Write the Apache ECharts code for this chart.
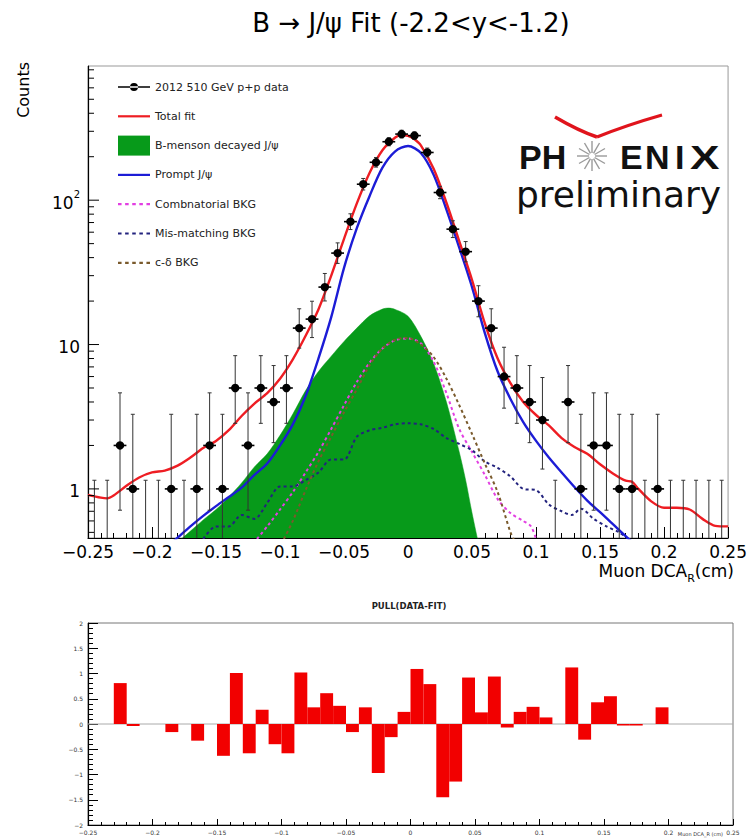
<!DOCTYPE html>
<html><head><meta charset="utf-8">
<script src="https://cdn.jsdelivr.net/npm/echarts@6/dist/echarts.min.js"></script>
<style>html,body{margin:0;padding:0;background:#fff}#c{width:750px;height:839px}</style>
</head><body><div id="c"></div>
<script>
// ---------------- data ----------------
const xRange = [-0.25, 0.25];
const yRangeMain = [0.457, 850];
const yRangePull = [-2, 2];

const binCenters = [-0.245,-0.235,-0.225,-0.215,-0.205,-0.195,-0.185,-0.175,-0.165,-0.155,
  -0.145,-0.135,-0.125,-0.115,-0.105,-0.095,-0.085,-0.075,-0.065,-0.055,
  -0.045,-0.035,-0.025,-0.015,-0.005,0.005,0.015,0.025,0.035,0.045,
  0.055,0.065,0.075,0.085,0.095,0.105,0.115,0.125,0.135,0.145,
  0.155,0.165,0.175,0.185,0.195,0.205,0.215,0.225,0.235,0.245];
const counts = [0,0,2,1,0,0,1,0,1,2,
  1,5,2,5,4,5,13,15,25,43,
  71,129,183,254,287,280,214,113,63,44,
  20,13,6,5,4,3,0,4,1,2,
  2,1,1,0,1,0,0,0,0,0];
const pulls = [null,null,0.81,-0.04,null,null,-0.16,null,-0.33,0,
  -0.63,1.01,-0.58,0.28,-0.40,-0.58,1.02,0.33,0.61,0.36,
  -0.16,0.33,-0.97,-0.26,0.24,1.09,0.79,-1.45,-1.14,0.92,
  0.23,0.94,-0.07,0.24,0.34,0.13,null,1.12,-0.31,0.43,
  0.55,-0.03,-0.03,null,0.33,null,null,null,null,null];

const totalFit = [[-0.25,0.91],[-0.24,0.87],[-0.235,0.86],[-0.23,0.9],[-0.22,1.05],[-0.21,1.2],[-0.2,1.3],[-0.19,1.34],[-0.18,1.45],[-0.17,1.65],[-0.16,1.92],[-0.15,2.15],[-0.14,2.55],[-0.13,3.2],[-0.12,3.9],[-0.11,4.6],[-0.1,5.8],[-0.09,7.9],[-0.08,11.5],[-0.07,17.5],[-0.06,30],[-0.05,54],[-0.04,95],[-0.03,155],[-0.02,222],[-0.01,272],[-0.005,283],[0,279],[0.005,264],[0.01,240],[0.02,165],[0.03,96],[0.04,52],[0.05,28],[0.06,14],[0.07,8],[0.08,5.4],[0.09,4.0],[0.1,3.25],[0.11,2.75],[0.12,2.25],[0.13,1.95],[0.14,1.75],[0.15,1.48],[0.16,1.28],[0.17,1.14],[0.175,1.12],[0.18,1.0],[0.19,0.82],[0.2,0.74],[0.21,0.74],[0.22,0.72],[0.23,0.62],[0.24,0.555],[0.25,0.55]];
const promptJpsi = [[-0.185,0.42],[-0.18,0.46],[-0.17,0.55],[-0.16,0.65],[-0.15,0.76],[-0.14,0.88],[-0.13,1.02],[-0.12,1.25],[-0.11,1.5],[-0.1,2.0],[-0.09,2.8],[-0.08,4.4],[-0.07,8.0],[-0.06,15.5],[-0.05,34],[-0.04,64],[-0.03,107],[-0.02,168],[-0.01,218],[0,237],[0.01,212],[0.02,150],[0.03,86],[0.04,47],[0.05,25],[0.06,12],[0.07,6.5],[0.08,4.2],[0.09,2.9],[0.1,2.15],[0.11,1.65],[0.12,1.3],[0.13,1.03],[0.14,0.83],[0.15,0.69],[0.16,0.57],[0.17,0.47],[0.175,0.43]];
const bMeson = [[-0.177,0.45],[-0.17,0.51],[-0.16,0.61],[-0.15,0.72],[-0.14,0.88],[-0.13,1.1],[-0.12,1.42],[-0.11,1.75],[-0.1,2.35],[-0.09,3.3],[-0.08,4.8],[-0.07,6.5],[-0.06,8.3],[-0.05,10.5],[-0.04,13],[-0.03,15.8],[-0.02,17.6],[-0.015,17.9],[-0.01,17.5],[0,15.7],[0.01,11.4],[0.02,7.4],[0.03,4.0],[0.04,1.8],[0.045,1.15],[0.05,0.68],[0.055,0.42]];
const combBkg = [[-0.118,0.45],[-0.11,0.55],[-0.1,0.72],[-0.09,0.95],[-0.08,1.3],[-0.07,1.8],[-0.06,2.6],[-0.05,3.8],[-0.04,5.5],[-0.03,7.5],[-0.02,9.4],[-0.01,10.7],[0,11],[0.01,10.2],[0.02,7.6],[0.03,4.6],[0.04,2.6],[0.05,1.8],[0.06,1.25],[0.07,0.85],[0.08,0.68],[0.09,0.6],[0.096,0.55],[0.1,0.45]];
const misBkg = [[-0.16,0.45],[-0.15,0.55],[-0.14,0.55],[-0.13,0.66],[-0.12,0.62],[-0.11,0.8],[-0.1,1.04],[-0.09,1.04],[-0.08,1.15],[-0.07,1.3],[-0.06,1.6],[-0.05,1.6],[-0.04,2.3],[-0.03,2.55],[-0.02,2.65],[-0.01,2.8],[0,2.85],[0.01,2.8],[0.02,2.6],[0.03,2.25],[0.04,2.05],[0.05,1.85],[0.06,1.55],[0.07,1.4],[0.08,1.22],[0.09,1.0],[0.1,0.98],[0.11,0.78],[0.12,0.7],[0.128,0.66],[0.135,0.73],[0.145,0.62],[0.155,0.55],[0.165,0.5],[0.172,0.45]];
const cdeltaBkg = [[-0.097,0.45],[-0.09,0.6],[-0.08,0.98],[-0.07,1.55],[-0.06,2.3],[-0.05,3.4],[-0.04,4.9],[-0.03,7.2],[-0.02,9.4],[-0.01,10.8],[0,11.1],[0.01,10],[0.02,8.2],[0.03,5.8],[0.04,3.8],[0.05,2.4],[0.06,1.5],[0.07,0.95],[0.08,0.5],[0.083,0.44]];

const mainYTicks = [0.5,0.6,0.7,0.8,0.9,1,2,3,4,5,6,7,8,9,10,20,30,40,50,60,70,80,90,100,200,300,400,500,600,700,800];
const xTickInterval = 0.05;
const pullTickInterval = 0.5;
const binHalfWidth = 0.005;

const legendNames = ['2012 510 GeV p+p data','Total fit','B-menson decayed J/\u03c8','Prompt J/\u03c8','Combnatorial BKG','Mis-matching BKG','c-\u03b4 BKG'];

// ---------------- styles ----------------
const FONT = 'DejaVu Sans';
const C_RED = '#ee1d23', C_BLUE = '#1c1cd6', C_GREEN = '#079a1a', C_MAG = '#e23fe2', C_NAVY = '#23237e', C_BROWN = '#7a5a2c';

function poissonInterval(n){
  if (n <= 0) return [0, 1.148];
  const lo = n*Math.pow(1 - 1/(9*n) - 1/(3*Math.sqrt(n)), 3);
  const m = n + 1;
  const hi = m*Math.pow(1 - 1/(9*m) + 1/(3*Math.sqrt(m)), 3);
  return [lo, hi];
}
const fmtNum = v => { const r = Math.round(v*1000)/1000; return r === 0 ? '0' : String(r).replace('-', '\u2212'); };

const chart = echarts.init(document.getElementById('c'), null, {renderer:'svg', width:750, height:839});

const dashIcon = 'path://M0,0h3.2v2h-3.2z M6.4,0h3.2v2h-3.2z M12.8,0h3.2v2h-3.2z M19.2,0h3.2v2h-3.2z M25.6,0h3.2v2h-3.2z';
const solidIcon = 'path://M0,0h32v2.2h-32z';
const dataIcon = 'path://M0,3.3h32v1.4h-32z M12,4a4,4 0 1,0 8,0a4,4 0 1,0 -8,0z';

const rays = [];
for (let k = 0; k < 12; k++) {
  const a = k*Math.PI/6;
  rays.push({type: 'line', shape: {x1: 3*Math.cos(a), y1: 3*Math.sin(a), x2: 15*Math.cos(a), y2: 15*Math.sin(a)}, style: {stroke: '#9a9a9a', lineWidth: 1.4}});
}

const option = {
  animation: false,
  backgroundColor: '#fff',
  textStyle: {fontFamily: FONT},
  grid: [
    {left: 88, top: 66, width: 645, height: 472, show: true, borderColor: '#999', borderWidth: 1, backgroundColor: 'transparent'},
    {left: 88, top: 623, width: 645, height: 202, show: true, borderColor: '#777', borderWidth: 1, backgroundColor: 'transparent'}
  ],
  xAxis: [
    {gridIndex: 0, type: 'value', min: xRange[0], max: xRange[1], interval: xTickInterval,
     axisLine: {show: true, onZero: false, lineStyle: {color: '#000', width: 1.2}},
     axisTick: {show: true, inside: true, length: 11, lineStyle: {color: '#000'}},
     minorTick: {show: true, splitNumber: 5, length: 5, lineStyle: {color: '#000'}},
     splitLine: {show: false},
     axisLabel: {fontSize: 17, color: '#000', margin: 5, fontFamily: FONT, lineHeight: 17, formatter: fmtNum, showMinLabel: true, showMaxLabel: true}},
    {gridIndex: 1, type: 'value', min: xRange[0], max: xRange[1], interval: xTickInterval,
     axisLine: {show: true, onZero: false, lineStyle: {color: '#000', width: 1.2}},
     axisTick: {show: true, inside: true, length: 6, lineStyle: {color: '#000'}},
     minorTick: {show: true, splitNumber: 5, length: 3, lineStyle: {color: '#000'}},
     splitLine: {show: false},
     axisLabel: {fontSize: 6, color: '#333', margin: 4, fontFamily: FONT, lineHeight: 6, formatter: fmtNum}}
  ],
  yAxis: [
    {gridIndex: 0, type: 'log', logBase: 10, min: yRangeMain[0], max: yRangeMain[1],
     axisLine: {show: true, onZero: false, lineStyle: {color: '#000', width: 1.2}},
     axisTick: {show: false}, splitLine: {show: false},
     axisLabel: {fontSize: 17, color: '#000', margin: 8, fontFamily: FONT, showMinLabel: false, showMaxLabel: false,
       formatter: v => { const l = Math.log10(v); const r = Math.round(l); if (Math.abs(l - r) > 1e-6) return ''; if (r === 0) return '{n|1}'; if (r === 1) return '{n|10}'; return '{n|10}{s|' + r + '}'; },
       rich: {n: {fontSize: 17, fontFamily: FONT, color: '#000', lineHeight: 22, verticalAlign: 'bottom'}, s: {fontSize: 10, fontFamily: FONT, color: '#000', verticalAlign: 'top'}}}},
    {gridIndex: 1, type: 'value', min: yRangePull[0], max: yRangePull[1], interval: pullTickInterval,
     axisLine: {show: true, onZero: false, lineStyle: {color: '#000', width: 1.2}},
     axisTick: {show: true, inside: true, length: 10, lineStyle: {color: '#000'}},
     minorTick: {show: true, splitNumber: 5, length: 5, lineStyle: {color: '#000'}},
     splitLine: {show: false},
     axisLabel: {fontSize: 6, color: '#333', margin: 5, fontFamily: FONT, lineHeight: 6, formatter: fmtNum}}
  ],
  legend: {
    orient: 'vertical', left: 118, top: 77, itemWidth: 32, itemHeight: 20, itemGap: 9.3, padding: 0,
    selectedMode: false, itemStyle: {borderWidth: 0},
    textStyle: {fontFamily: FONT, fontSize: 11, color: '#222', lineHeight: 20},
    data: [
      {name: legendNames[0], icon: dataIcon},
      {name: legendNames[1], icon: solidIcon},
      {name: legendNames[2], icon: 'rect'},
      {name: legendNames[3], icon: solidIcon},
      {name: legendNames[4], icon: dashIcon},
      {name: legendNames[5], icon: dashIcon},
      {name: legendNames[6], icon: dashIcon}
    ]
  },
  graphic: [
    {type: 'text', x: 411, y: 23, style: {text: 'B \u2192 J/\u03c8 Fit (-2.2<y<-1.2)', font: '26px "DejaVu Sans"', fill: '#000', align: 'center', verticalAlign: 'middle'}},
    {type: 'text', x: 23, y: 62, rotation: Math.PI/2, style: {text: 'Counts', font: '16px "DejaVu Sans"', fill: '#000', align: 'right', verticalAlign: 'middle'}},
    {type: 'text', x: 734, y: 562, style: {text: '{a|Muon DCA}{s|R}{a|(cm)}', align: 'right', verticalAlign: 'top',
      rich: {a: {fontSize: 17, fontFamily: FONT, color: '#000', lineHeight: 22, verticalAlign: 'top'}, s: {fontSize: 11, fontFamily: FONT, color: '#000', verticalAlign: 'bottom'}}}},
    // PHENIX logo
    {type: 'bezierCurve', shape: {x1: 555, y1: 117, cpx1: 579, cpy1: 131, x2: 597, y2: 137}, style: {stroke: '#e0141c', lineWidth: 3.5, fill: null}},
    {type: 'bezierCurve', shape: {x1: 597, y1: 137, cpx1: 627, cpy1: 125, x2: 662, y2: 115}, style: {stroke: '#e0141c', lineWidth: 3, fill: null}},
    {type: 'text', x: 519, y: 157, style: {text: 'PH', font: 'bold 34px "Liberation Sans"', fill: '#111', verticalAlign: 'middle'}},
    {type: 'group', x: 592, y: 156, children: rays},
    {type: 'text', x: 620, y: 157, style: {text: 'E', font: 'bold 34px "Liberation Sans"', fill: '#111', verticalAlign: 'middle'}},
    {type: 'text', x: 645, y: 157, style: {text: 'N', font: 'bold 34px "Liberation Sans"', fill: '#111', verticalAlign: 'middle'}},
    {type: 'text', x: 675, y: 157, style: {text: 'I', font: 'bold 34px "Liberation Sans"', fill: '#111', verticalAlign: 'middle'}},
    {type: 'text', x: 690, y: 157, scaleX: 1.3, style: {text: 'X', font: 'bold 34px "Liberation Sans"', fill: '#111', verticalAlign: 'middle'}},
    {type: 'text', x: 516, y: 194, style: {text: 'preliminary', font: '36px "DejaVu Sans"', fill: '#111', verticalAlign: 'middle'}},
    // pull panel texts
    {type: 'text', x: 409, y: 606, style: {text: 'PULL(DATA-FIT)', font: 'bold 8.5px "DejaVu Sans"', fill: '#222', align: 'center', verticalAlign: 'middle'}},
    {type: 'text', x: 723, y: 831, style: {text: 'Muon DCA_R (cm)', font: '5px "DejaVu Sans"', fill: '#333', align: 'right', verticalAlign: 'top'}}
  ],
  series: [
    {name: legendNames[2], type: 'line', xAxisIndex: 0, yAxisIndex: 0, data: bMeson, smooth: 0.3, symbol: 'none', color: C_GREEN,
     lineStyle: {width: 0.5, color: C_GREEN}, areaStyle: {color: C_GREEN, opacity: 1, origin: 'start'}, z: 2},
    {name: legendNames[4], type: 'line', xAxisIndex: 0, yAxisIndex: 0, data: combBkg, smooth: 0.3, symbol: 'none', color: C_MAG,
     lineStyle: {width: 2, color: C_MAG, type: [3, 3]}, z: 3},
    {name: legendNames[5], type: 'line', xAxisIndex: 0, yAxisIndex: 0, data: misBkg, smooth: 0.3, symbol: 'none', color: C_NAVY,
     lineStyle: {width: 2, color: C_NAVY, type: [3, 3]}, z: 3},
    {name: legendNames[6], type: 'line', xAxisIndex: 0, yAxisIndex: 0, data: cdeltaBkg, smooth: 0.3, symbol: 'none', color: C_BROWN,
     lineStyle: {width: 2, color: C_BROWN, type: [3, 3]}, z: 3},
    {name: legendNames[3], type: 'line', xAxisIndex: 0, yAxisIndex: 0, data: promptJpsi, smooth: 0.3, symbol: 'none', color: C_BLUE,
     lineStyle: {width: 2.4, color: C_BLUE}, z: 4},
    {name: legendNames[1], type: 'line', xAxisIndex: 0, yAxisIndex: 0, data: totalFit, smooth: 0.3, symbol: 'none', color: C_RED,
     lineStyle: {width: 2.4, color: C_RED}, z: 5},
    {name: legendNames[0], type: 'custom', xAxisIndex: 0, yAxisIndex: 0, color: '#000', itemStyle: {color: '#000'}, z: 6, clip: true,
     data: binCenters.map((x, i) => [x, counts[i]]),
     encode: {x: 0, y: 1},
     renderItem: (params, api) => {
       const x = api.value(0), n = api.value(1);
       const [lo, hi] = poissonInterval(n);
       const yLo = Math.max(lo, yRangeMain[0]);
       const yHi = Math.min(hi, yRangeMain[1]);
       const pT = api.coord([x, yHi]), pB = api.coord([x, yLo]);
       const ch = [
         {type: 'line', shape: {x1: pT[0], y1: pT[1], x2: pB[0], y2: pB[1]}, style: {stroke: '#333', lineWidth: 1}},
         {type: 'line', shape: {x1: pT[0]-2, y1: pT[1], x2: pT[0]+2, y2: pT[1]}, style: {stroke: '#333', lineWidth: 1}}
       ];
       if (lo > yRangeMain[0]) ch.push({type: 'line', shape: {x1: pB[0]-2, y1: pB[1], x2: pB[0]+2, y2: pB[1]}, style: {stroke: '#333', lineWidth: 1}});
       if (n > 0) {
         const pl = api.coord([x - binHalfWidth, n]), pr = api.coord([x + binHalfWidth, n]), pc = api.coord([x, n]);
         ch.push({type: 'line', shape: {x1: pl[0], y1: pl[1], x2: pr[0], y2: pr[1]}, style: {stroke: '#000', lineWidth: 1.6}});
         ch.push({type: 'circle', shape: {cx: pc[0], cy: pc[1], r: 4.2}, style: {fill: '#000'}});
       }
       return {type: 'group', children: ch};
     }},
    {name: 'yticks', type: 'custom', xAxisIndex: 0, yAxisIndex: 0, z: 7, silent: true,
     data: mainYTicks.map(v => [0, v]), encode: {x: 0, y: 1},
     renderItem: (params, api) => {
       const v = api.value(1);
       const p = api.coord([0, v]);
       const x0 = params.coordSys.x;
       const l = Math.log10(v); const len = Math.abs(l - Math.round(l)) < 1e-6 ? 11 : 6;
       return {type: 'line', shape: {x1: x0, y1: p[1], x2: x0 + len, y2: p[1]}, style: {stroke: '#000', lineWidth: 1}};
     }},
    {name: 'pullZero', type: 'line', xAxisIndex: 1, yAxisIndex: 1, data: [[xRange[0], 0], [xRange[1], 0]], symbol: 'none', silent: true,
     lineStyle: {color: '#aaa', width: 1}, z: 1},
    {name: 'pull', type: 'custom', xAxisIndex: 1, yAxisIndex: 1, z: 3, clip: true,
     data: binCenters.map((x, i) => [x, pulls[i] === null ? '-' : pulls[i]]), encode: {x: 0, y: 1},
     renderItem: (params, api) => {
       const x = api.value(0), v = api.value(1);
       if (v === null || isNaN(v)) return null;
       const p1 = api.coord([x - binHalfWidth, 0]), p2 = api.coord([x + binHalfWidth, v]);
       return {type: 'rect', shape: {x: p1[0], y: Math.min(p1[1], p2[1]), width: p2[0] - p1[0], height: Math.abs(p2[1] - p1[1])}, style: {fill: '#f20000'}};
     }}
  ]
};
chart.setOption(option);
</script>
</body></html>
